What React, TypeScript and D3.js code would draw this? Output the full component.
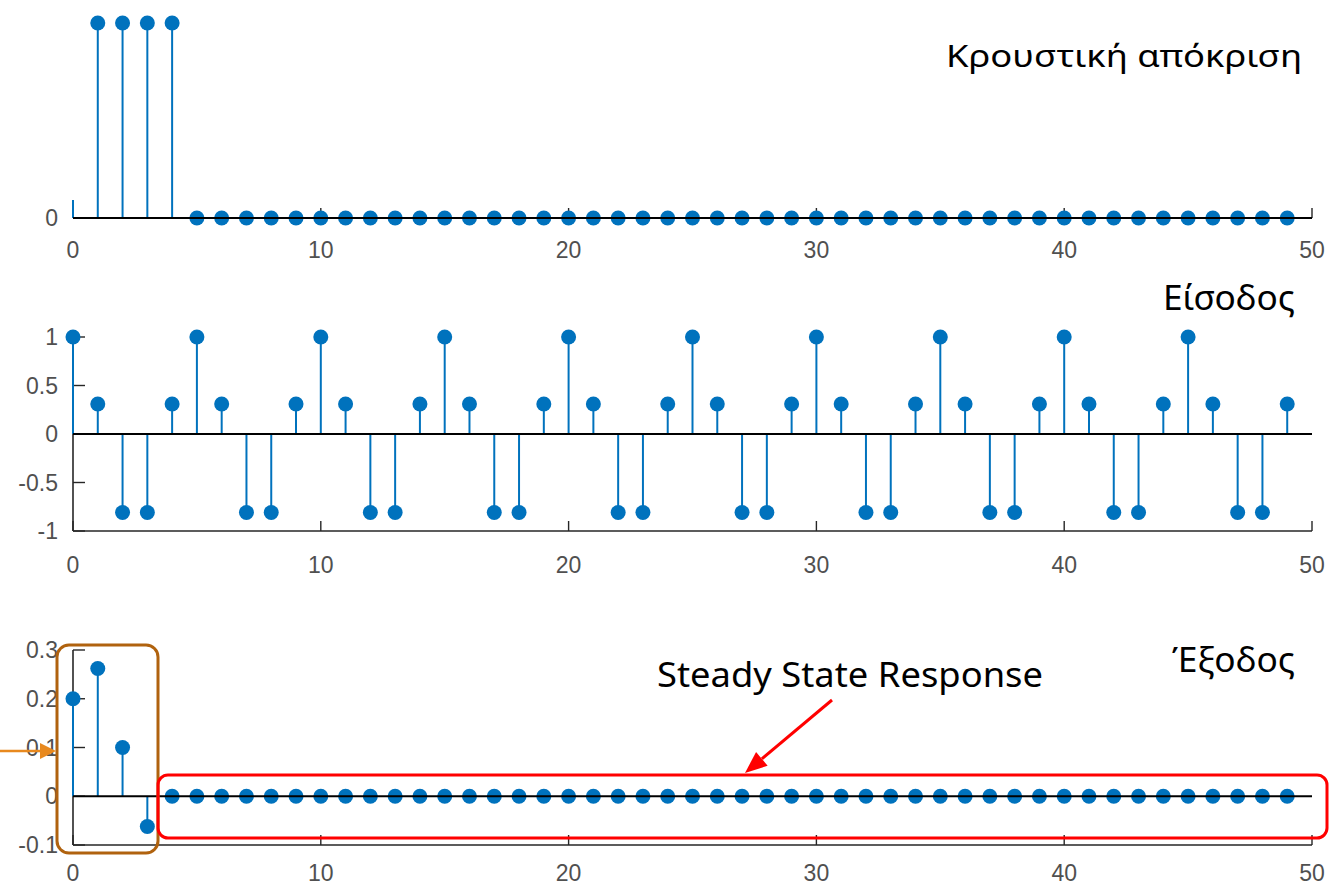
import React from "react";
import * as d3 from "d3";

const W = 1330;
const H = 886;

// sample index n = 0..49
const samples: number[] = d3.range(0, 50);

// Κρουστική απόκριση h[n]
const impulseValues: number[] = [
  0.2, 0.2, 0.2, 0.2, 0.2, 0, 0, 0, 0, 0,
  0, 0, 0, 0, 0, 0, 0, 0, 0, 0,
  0, 0, 0, 0, 0, 0, 0, 0, 0, 0,
  0, 0, 0, 0, 0, 0, 0, 0, 0, 0,
  0, 0, 0, 0, 0, 0, 0, 0, 0, 0,
];

// Είσοδος x[n]
const inputValues: number[] = [
  1, 0.309, -0.809, -0.809, 0.309, 1, 0.309, -0.809, -0.809, 0.309,
  1, 0.309, -0.809, -0.809, 0.309, 1, 0.309, -0.809, -0.809, 0.309,
  1, 0.309, -0.809, -0.809, 0.309, 1, 0.309, -0.809, -0.809, 0.309,
  1, 0.309, -0.809, -0.809, 0.309, 1, 0.309, -0.809, -0.809, 0.309,
  1, 0.309, -0.809, -0.809, 0.309, 1, 0.309, -0.809, -0.809, 0.309,
];

// Έξοδος y[n]
const outputValues: number[] = [
  0.2, 0.262, 0.1, -0.062, 0, 0, 0, 0, 0, 0,
  0, 0, 0, 0, 0, 0, 0, 0, 0, 0,
  0, 0, 0, 0, 0, 0, 0, 0, 0, 0,
  0, 0, 0, 0, 0, 0, 0, 0, 0, 0,
  0, 0, 0, 0, 0, 0, 0, 0, 0, 0,
];

const xTicks: number[] = [0, 10, 20, 30, 40, 50];
const impulseYTicks: number[] = [0];
const inputYTicks: number[] = [1, 0.5, 0, -0.5, -1];
const outputYTicks: number[] = [0.3, 0.2, 0.1, 0, -0.1];

const titles = {
  impulse: "Κρουστική απόκριση",
  input: "Είσοδος",
  output: "Έξοδος",
  steady: "Steady State Response",
};

const BLUE = "#0072BD";
const AXIS = "#262626";
const LABEL = "#505050";
const TICK_FONT = "'Liberation Sans', Arial, sans-serif";
const TITLE_FONT = "'Noto Sans', 'Open Sans', sans-serif";

const x = d3.scaleLinear().domain([0, 50]).range([73, 1312]);

type PanelProps = {
  values: number[];
  y: d3.ScaleLinear<number, number>;
  yTicks: number[];
  xLabelY: number;
  axisTop: number;
  showYTickMarks: boolean;
};

function fmt(v: number): string {
  return String(v);
}

function StemPanel({ values, y, yTicks, xLabelY, axisTop, showYTickMarks }: PanelProps) {
  const [d0, d1] = y.domain();
  const yBottom = y(Math.min(d0, d1));
  const y0 = y(0);
  const x0 = x(0);
  const x1 = x(50);
  return (
    <g>
      {/* axes */}
      <line x1={x0} x2={x0} y1={axisTop} y2={yBottom} stroke={AXIS} strokeWidth={1.6} />
      <line x1={x0} x2={x1} y1={yBottom} y2={yBottom} stroke={AXIS} strokeWidth={1.6} />
      {xTicks.map((t) => (
        <line key={"xt" + t} x1={x(t)} x2={x(t)} y1={yBottom} y2={yBottom - 10} stroke={AXIS} strokeWidth={1.4} />
      ))}
      {showYTickMarks &&
        yTicks.map((t) => (
          <line key={"yt" + t} x1={x0} x2={x0 + 12} y1={y(t)} y2={y(t)} stroke={AXIS} strokeWidth={1.4} />
        ))}
      {xTicks.map((t) => (
        <text
          key={"xl" + t}
          x={x(t)}
          y={xLabelY}
          textAnchor="middle"
          dominantBaseline="central"
          fontFamily={TICK_FONT}
          fontSize={23}
          fill={LABEL}
        >
          {t}
        </text>
      ))}
      {yTicks.map((t) => (
        <text
          key={"yl" + t}
          x={58}
          y={y(t)}
          textAnchor="end"
          dominantBaseline="central"
          fontFamily={TICK_FONT}
          fontSize={23}
          fill={LABEL}
        >
          {fmt(t)}
        </text>
      ))}
      {/* stems */}
      {samples.map((n) =>
        values[n] !== 0 ? (
          <line key={"s" + n} x1={x(n)} x2={x(n)} y1={y0} y2={y(values[n])} stroke={BLUE} strokeWidth={2} />
        ) : null
      )}
      {samples.map((n) => (
        <circle key={"m" + n} cx={x(n)} cy={y(values[n])} r={7.5} fill={BLUE} />
      ))}
      {/* zero line */}
      <line x1={x0} x2={x1} y1={y0} y2={y0} stroke="#000" strokeWidth={2} />
    </g>
  );
}

export default function App() {
  const yImp = d3.scaleLinear().domain([0, 0.2]).range([218, 23]);
  const yIn = d3.scaleLinear().domain([-1, 1]).range([531, 337]);
  const yOut = d3.scaleLinear().domain([-0.1, 0.3]).range([845, 650]);

  const redTip = [745, 773];
  const redTail = [832, 700];
  const ang = Math.atan2(redTip[1] - redTail[1], redTip[0] - redTail[0]);
  const headLen = 22;
  const headW = 9;
  const bx = redTip[0] - headLen * Math.cos(ang);
  const by = redTip[1] - headLen * Math.sin(ang);
  const px = -Math.sin(ang) * headW;
  const py = Math.cos(ang) * headW;

  return (
    <svg
      width={W}
      height={H}
      style={{ position: "absolute", left: 0, top: 0, background: "#fff" }}
      xmlns="http://www.w3.org/2000/svg"
    >
      <rect x={0} y={0} width={W} height={H} fill="#fff" />

      {/* Panel 1: impulse response */}
      <StemPanel values={impulseValues} y={yImp} yTicks={impulseYTicks} xLabelY={250} axisTop={23} showYTickMarks={false} />
      {/* cropped top-left corner of the original figure */}
      <rect x={0} y={0} width={86} height={200} fill="#fff" />
      <text x={946} y={67} fontFamily={TITLE_FONT} fontSize={31} fill="#000" textLength={356} lengthAdjust="spacingAndGlyphs">
        {titles.impulse}
      </text>

      {/* Panel 2: input */}
      <StemPanel values={inputValues} y={yIn} yTicks={inputYTicks} xLabelY={565} axisTop={337} showYTickMarks={true} />
      <text x={1163} y={310} fontFamily={TITLE_FONT} fontSize={35} fill="#000" textLength={132} lengthAdjust="spacingAndGlyphs">
        {titles.input}
      </text>

      {/* Panel 3: output */}
      <StemPanel values={outputValues} y={yOut} yTicks={outputYTicks} xLabelY={873} axisTop={650} showYTickMarks={true} />
      <text x={1172} y={672} fontFamily={TITLE_FONT} fontSize={35} fill="#000" textLength={123} lengthAdjust="spacingAndGlyphs">
        {titles.output}
      </text>

      {/* annotations */}
      <rect x={57} y={645} width={101} height={208} rx={12} ry={12} fill="none" stroke="#B0620E" strokeWidth={3} />
      <line x1={0} y1={751} x2={42} y2={751} stroke="#E8891E" strokeWidth={2.5} />
      <polygon points="56,751 40,743 40,759" fill="#E8891E" />

      <rect x={158} y={775} width={1169} height={63} rx={10} ry={10} fill="none" stroke="#FF0000" strokeWidth={3} />
      <line x1={redTail[0]} y1={redTail[1]} x2={bx} y2={by} stroke="#FF0000" strokeWidth={3} />
      <polygon
        points={`${redTip[0]},${redTip[1]} ${bx + px},${by + py} ${bx - px},${by - py}`}
        fill="#FF0000"
      />
      <text x={657} y={687} fontFamily={TITLE_FONT} fontSize={35} fill="#000" textLength={386} lengthAdjust="spacingAndGlyphs">
        {titles.steady}
      </text>
    </svg>
  );
}
